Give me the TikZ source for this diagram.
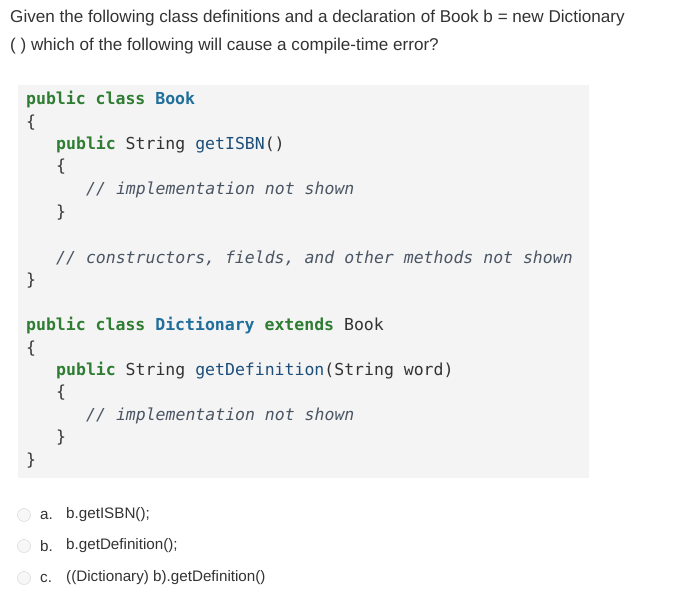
\documentclass[tikz,border=0pt]{standalone}
\usepackage{fontspec}
\setmainfont{Liberation Sans}
\newfontfamily\codefont{DejaVu Sans Mono}
\definecolor{kw}{HTML}{2E7D32}
\definecolor{cls}{HTML}{1F6E9C}
\definecolor{mth}{HTML}{1D4E7A}
\definecolor{cmt}{HTML}{4A5563}
\definecolor{txt}{HTML}{333333}
\definecolor{codebg}{HTML}{F4F4F4}
\newcommand{\K}[1]{\textcolor{kw}{\bfseries #1}}
\newcommand{\C}[1]{\textcolor{cls}{\bfseries #1}}
\newcommand{\M}[1]{\textcolor{mth}{#1}}
\newcommand{\Cm}[1]{\textcolor{cmt}{\itshape #1}}
\tikzset{
  q/.style={anchor=west,inner sep=0pt,font=\fontsize{17.1}{20}\selectfont,text=txt},
  cl/.style={anchor=west,inner sep=0pt,font=\codefont\fontsize{16.5}{19}\selectfont,text=txt},
  opt/.style={anchor=west,inner sep=0pt,font=\fontsize{15.2}{17}\selectfont,text=txt},
  radio/.style={circle,draw=black!18,fill=black!3,minimum size=13pt,inner sep=0pt}
}
\begin{document}
\begin{tikzpicture}[x=1pt,y=-1pt]
\useasboundingbox[fill=white] (0,0) rectangle (700,596);
\fill[codebg] (18,85) rectangle (589,478);
\node[q] (q1) at (10,18) {Given the following class definitions and a declaration of Book b = new Dictionary};
\node[q] (q2) at (10,46) {( ) which of the following will cause a compile-time error?};
\node[cl] (l1) at (26,100) {\K{public class} \C{Book}};
\node[cl] (l2) at (26,123) {\{};
\node[cl] (l3) at (56,145) {\K{public} String \M{getISBN}()};
\node[cl] (l4) at (56,167) {\{};
\node[cl] (l5) at (86,190) {\Cm{// implementation not shown}};
\node[cl] (l6) at (56,213) {\}};
\node[cl] (l7) at (56,258) {\Cm{// constructors, fields, and other methods not shown}};
\node[cl] (l8) at (26,281) {\}};
\node[cl] (l9) at (26,326) {\K{public class} \C{Dictionary} \K{extends} Book};
\node[cl] (l10) at (26,349) {\{};
\node[cl] (l11) at (56,371) {\K{public} String \M{getDefinition}(String word)};
\node[cl] (l12) at (56,393) {\{};
\node[cl] (l13) at (86,416) {\Cm{// implementation not shown}};
\node[cl] (l14) at (56,438) {\}};
\node[cl] (l15) at (26,461) {\}};
\node[radio] (ra) at (24,515) {};
\node[radio] (rb) at (24,546) {};
\node[radio] (rc) at (24,578) {};
\node[opt] (la) at (40,515) {a.};
\node[opt] (lb) at (40,546) {b.};
\node[opt] (lc) at (40,578) {c.};
\node[opt] (ta) at (66,515) {b.getISBN();};
\node[opt] (tb) at (66,546) {b.getDefinition();};
\node[opt] (tc) at (66,578) {((Dictionary) b).getDefinition()};
\end{tikzpicture}
\end{document}
